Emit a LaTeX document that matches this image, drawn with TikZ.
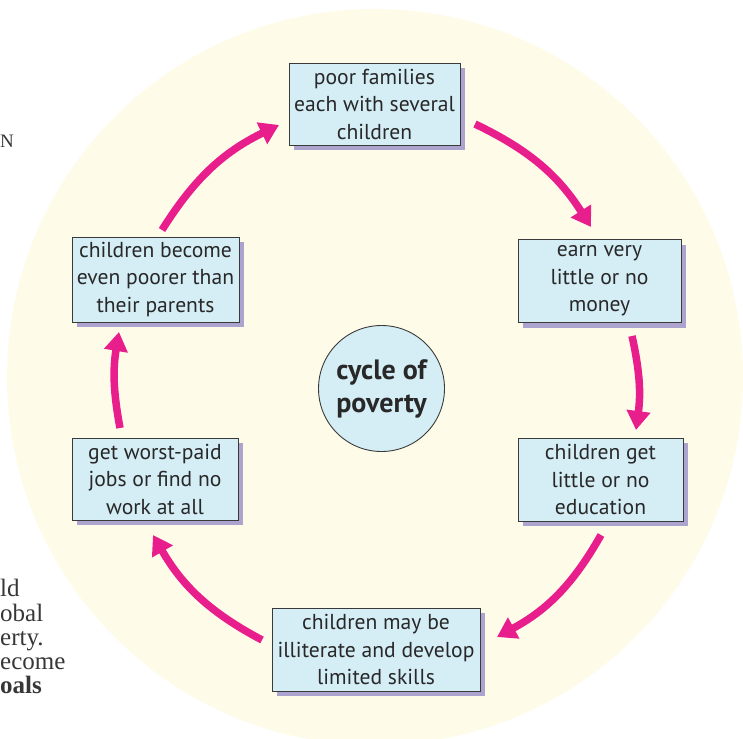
\documentclass[tikz,border=0pt]{standalone}
\usepackage{fontspec}
\setmainfont{Liberation Serif}
\newfontfamily\boxfont{PT Sans}
\usetikzlibrary{arrows.meta,shadows}

\definecolor{paper}{RGB}{254,252,232}
\definecolor{cellblue}{RGB}{213,238,246}
\definecolor{shade}{RGB}{172,164,206}
\definecolor{edge}{RGB}{58,58,58}
\definecolor{loop}{RGB}{232,30,140}
\definecolor{ink}{RGB}{40,40,40}
\definecolor{pagetext}{RGB}{55,55,55}

\begin{document}
\begin{tikzpicture}[x=1pt,y=-1pt,
  stage/.style={draw=edge, line width=0.9pt, fill=cellblue, align=center,
    inner sep=0pt, text=ink, font=\boxfont\fontsize{21.6}{27.5}\selectfont,
    drop shadow={shadow xshift=5pt, shadow yshift=-5pt, fill=shade, opacity=1}},
  hub/.style={circle, draw=edge, line width=0.9pt, fill=cellblue, align=center,
    inner sep=0pt, minimum size=126pt, text=ink,
    font=\boxfont\bfseries\fontsize{28}{33}\selectfont},
  flow/.style={draw=loop, line width=7.5pt,
    -{Triangle[length=19pt,width=23pt]}},
  margintext/.style={anchor=base west, inner sep=0pt, text=pagetext,
    font=\fontsize{25}{24}\selectfont}
]
\useasboundingbox (0,0) rectangle (743,738);
\clip (0,0) rectangle (743,738);
\fill[white] (0,0) rectangle (743,738);

% pale disc behind the cycle
\fill[paper] (375,377) circle[radius=368];

% text of the page running along the left margin
\node[margintext, font=\fontsize{19}{20}\selectfont] (mN) at (0,147) {N};
\node[margintext] (m1) at (0,596) {ld};
\node[margintext] (m2) at (0,621) {obal};
\node[margintext] (m3) at (0,645) {erty.};
\node[margintext] (m4) at (0,669) {ecome};
\node[margintext, font=\bfseries\fontsize{25}{24}\selectfont] (m5) at (0,693) {oals};

% stages of the cycle
\node[stage, minimum width=171pt, minimum height=82pt] (top) at (374.5,104)
  {poor families\\each with several\\children};
\node[stage, minimum width=163pt, minimum height=83pt] (rt) at (599.5,281)
  {earn very\\little or no\\money};
\node[stage, minimum width=165pt, minimum height=83pt] (rb) at (600.5,479.5)
  {children get\\little or no\\education};
\node[stage, minimum width=208pt, minimum height=83pt] (bot) at (376,649.5)
  {children may be\\illiterate and develop\\limited skills};
\node[stage, minimum width=166pt, minimum height=82pt] (lb) at (155,479)
  {get worst-paid\\jobs or find no\\work at all};
\node[stage, minimum width=167pt, minimum height=85pt] (lt) at (155.5,279.5)
  {children become\\even poorer than\\their parents};

\node[hub] (core) at (381.5,388.5) {cycle of\\poverty};

% arrow ends
\coordinate (a1s) at (475,124);  \coordinate (a1e) at (591,227);
\coordinate (a2s) at (632,336);  \coordinate (a2e) at (636,430);
\coordinate (a3s) at (601,535);  \coordinate (a3e) at (497,637);
\coordinate (a4s) at (262,640);  \coordinate (a4e) at (153,535);
\coordinate (a5s) at (120,428);  \coordinate (a5e) at (119,332);
\coordinate (a6s) at (162,230);  \coordinate (a6e) at (279,125);

\draw[flow] (a1s) to[bend left=16] (a1e);
\draw[flow] (a2s) to[bend left=10] (a2e);
\draw[flow] (a3s) to[bend left=16] (a3e);
\draw[flow] (a4s) to[bend left=16] (a4e);
\draw[flow] (a5s) to[bend left=10] (a5e);
\draw[flow] (a6s) to[bend left=16] (a6e);
\end{tikzpicture}
\end{document}
